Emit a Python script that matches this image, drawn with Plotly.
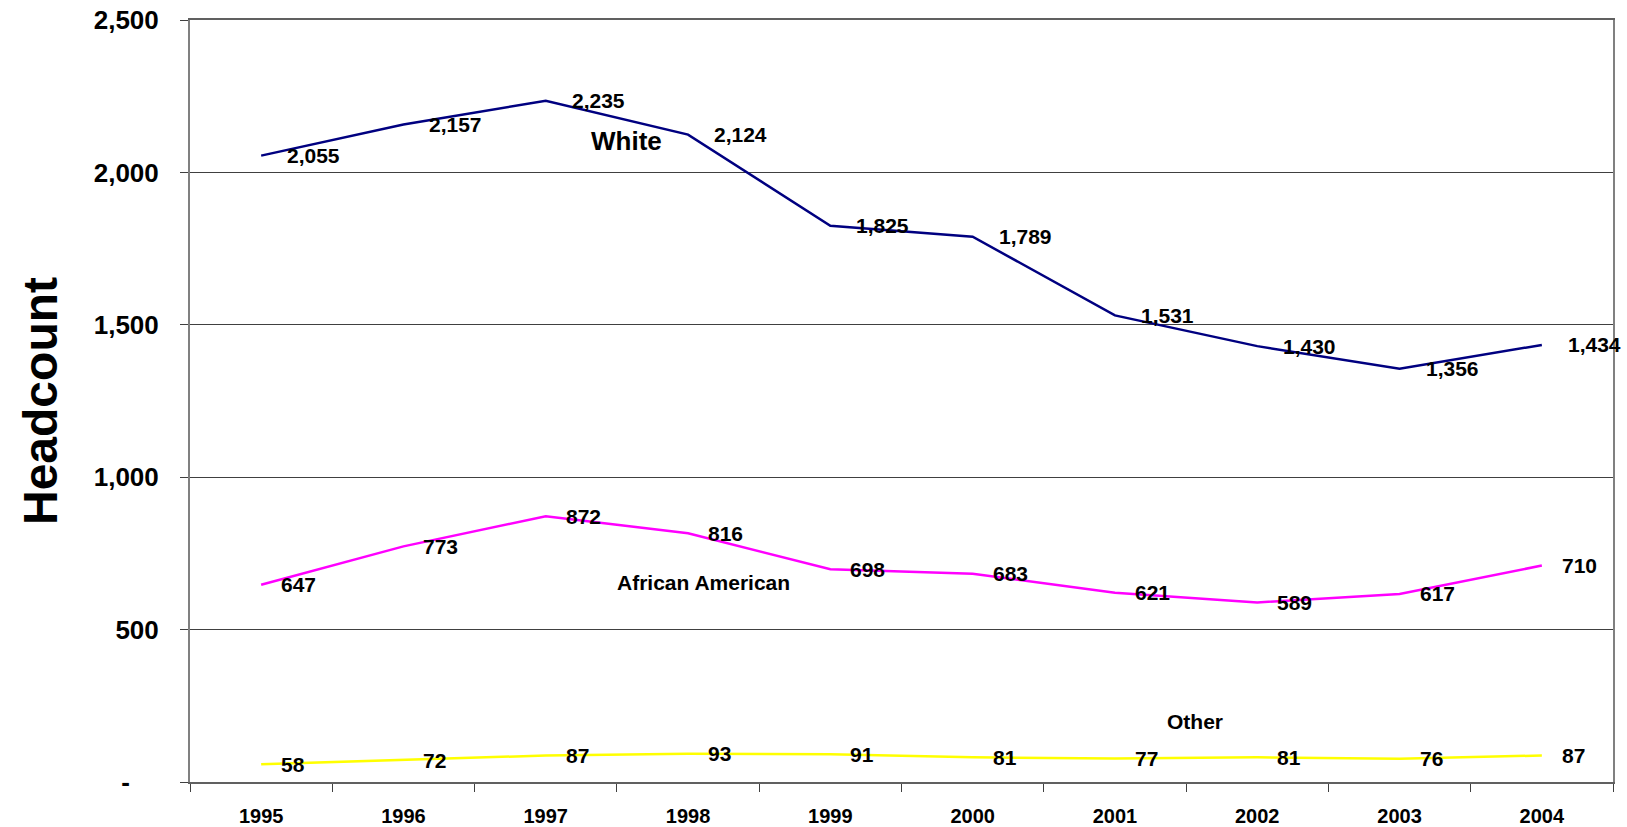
import plotly.graph_objects as go

years = ["1995", "1996", "1997", "1998", "1999", "2000", "2001", "2002", "2003", "2004"]
white = [2055, 2157, 2235, 2124, 1825, 1789, 1531, 1430, 1356, 1434]
african_american = [647, 773, 872, 816, 698, 683, 621, 589, 617, 710]
other = [58, 72, 87, 93, 91, 81, 77, 81, 76, 87]
y_tickvals = [0, 500, 1000, 1500, 2000, 2500]
y_ticktext = ["-\u00a0\u00a0\u00a0\u00a0", "500", "1,000", "1,500", "2,000", "2,500"]

FONT = "Arial, 'Liberation Sans', sans-serif"

series = [
    ("White", white, "#000080", 24),
    ("African American", african_american, "#FF00FF", 18),
    ("Other", other, "#FFFF00", 18),
]

fig = go.Figure()
annotations = []
for name, vals, color, shift in series:
    fig.add_trace(go.Scatter(x=years, y=vals, mode="lines", name=name,
                             line=dict(color=color, width=2.5), hoverinfo="skip"))
    for i, yv in enumerate(vals):
        annotations.append(dict(x=i, y=yv, xref="x", yref="y", text=f"<b>{yv:,}</b>",
                                showarrow=False, xanchor="left", yanchor="middle",
                                xshift=shift, font=dict(family=FONT, size=21, color="black")))

# series name labels
annotations += [
    dict(x=2.57, y=2103, xref="x", yref="y", text="<b>White</b>", showarrow=False,
         font=dict(family=FONT, size=26, color="black")),
    dict(x=3.11, y=653, xref="x", yref="y", text="<b>African American</b>", showarrow=False,
         font=dict(family=FONT, size=21, color="black")),
    dict(x=6.56, y=197, xref="x", yref="y", text="<b>Other</b>", showarrow=False,
         font=dict(family=FONT, size=21, color="black")),
    dict(x=0, y=0.5, xref="paper", yref="paper", text="<b>Headcount</b>", showarrow=False,
         textangle=-90, xanchor="center", yanchor="middle", xshift=-150,
         font=dict(family=FONT, size=48, color="black")),
]

fig.update_layout(
    width=1627, height=827,
    margin=dict(l=190, r=14, t=20, b=45),
    paper_bgcolor="white", plot_bgcolor="white",
    showlegend=False,
    annotations=annotations,
    font=dict(family=FONT, color="black"),
)
fig.update_xaxes(
    type="category", range=[-0.5, 9.5], automargin=False,
    showgrid=False, showline=True, linecolor="#606060", linewidth=2, mirror=True,
    ticks="outside", tickson="boundaries", ticklen=8, tickcolor="#404040", tickwidth=1,
    tickfont=dict(family=FONT, size=20, color="black"),
    tickprefix="<b>", ticksuffix="</b>",
    ticklabelstandoff=15,
)
fig.update_yaxes(
    range=[0, 2500], tickvals=y_tickvals, ticktext=[f"<b>{t}</b>" for t in y_ticktext],
    automargin=False, ticklabeloverflow="allow",
    showgrid=True, gridcolor="#404040", gridwidth=1,
    showline=True, linecolor="#808080", linewidth=2, mirror=True,
    ticks="outside", ticklen=8, tickcolor="#404040", tickwidth=1,
    tickfont=dict(family=FONT, size=26, color="black"),
    ticklabelstandoff=16, zeroline=False,
)

fig.write_html("out.html", config={"displayModeBar": False},
               post_script="document.body.style.margin='0';document.body.style.overflow='hidden';")
